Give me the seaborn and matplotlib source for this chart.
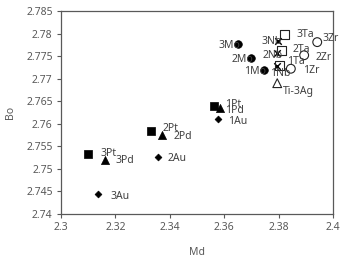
import matplotlib
matplotlib.use("Agg")
import matplotlib.pyplot as plt
import seaborn as sns
import pandas as pd
from matplotlib.ticker import FuncFormatter

# data
labels = ["3Pt", "2Pt", "1Pt",
          "3Pd", "2Pd", "1Pd",
          "3Au", "2Au", "1Au",
          "3Mo", "2Mo", "1Mo",
          "3Nb", "2Nb", "1Nb",
          "3Ta", "2Ta", "1Ta",
          "3Zr", "2Zr", "1Zr",
          "Ti-3Ag"]
md = [2.3100, 2.3331, 2.3562,
      2.3162, 2.3372, 2.3585,
      2.3137, 2.3356, 2.3576,
      2.3650, 2.3697, 2.3746,
      2.3797, 2.3793, 2.3795,
      2.3821, 2.3811, 2.3803,
      2.3942, 2.3894, 2.3845,
      2.3795]
bo = [2.7532, 2.7585, 2.7640,
      2.7520, 2.7575, 2.7634,
      2.7444, 2.7527, 2.7610,
      2.7776, 2.7745, 2.7719,
      2.7783, 2.7756, 2.7727,
      2.7798, 2.7762, 2.7730,
      2.7781, 2.7752, 2.7722,
      2.7690]
group = ["Pt"] * 3 + ["Pd"] * 3 + ["Au"] * 3 + ["Mo"] * 3 + \
        ["Nb"] * 3 + ["Ta"] * 3 + ["Zr"] * 3 + ["Ag"]

df = pd.DataFrame({"label": labels, "Md": md, "Bo": bo, "group": group})

# marker style per group: marker, size, filled
styles = {
    "Pt": ("s", 26, True),
    "Pd": ("^", 34, True),
    "Au": ("D", 12, True),
    "Mo": ("o", 30, True),
    "Nb": ("x", 22, False),
    "Ta": ("s", 40, False),
    "Zr": ("o", 40, False),
    "Ag": ("^", 40, False),
}

# label offsets in pixels (dx, dy, ha)
offs = {
    "3Pt": (12, 1, "left"), "2Pt": (12, 2, "left"), "1Pt": (11, 1, "left"),
    "3Pd": (10, -1, "left"), "2Pd": (11, -1, "left"), "1Pd": (5, -2, "left"),
    "3Au": (12, -2, "left"), "2Au": (10, -2, "left"), "1Au": (10, -2, "left"),
    "3Mo": (3, -1, "right"), "2Mo": (3, -1, "right"), "1Mo": (2, -1, "right"),
    "3Nb": (-6, 0, "center"), "2Nb": (-4, -2, "center"), "1Nb": (3, -7, "center"),
    "3Ta": (12, 0, "left"), "2Ta": (11, 1, "left"), "1Ta": (8, 4, "left"),
    "3Zr": (5, 4, "left"), "2Zr": (11, -2, "left"), "1Zr": (12, -2, "left"),
    "Ti-3Ag": (6, -8, "left"),
}

sns.set_theme(style="white")
plt.rcParams["font.family"] = ["Noto Sans", "DejaVu Sans"]

fig = plt.figure(figsize=(3.42, 2.56), dpi=100)
ax = fig.add_axes([61 / 342, 1 - 214 / 256, 272 / 342, 203 / 256])

for g, (mk, sz, filled) in styles.items():
    sub = df[df["group"] == g]
    if mk == "x":
        sns.scatterplot(data=sub, x="Md", y="Bo", marker=mk, s=sz, color="black",
                        linewidth=1.0, ax=ax, zorder=3)
    elif filled:
        sns.scatterplot(data=sub, x="Md", y="Bo", marker=mk, s=sz, color="black",
                        edgecolor="black", linewidth=0.5, ax=ax, zorder=3)
    else:
        sns.scatterplot(data=sub, x="Md", y="Bo", marker=mk, s=sz, facecolor="none",
                        edgecolor="#222222", linewidth=0.8, ax=ax, zorder=3)

for lab, x, y in zip(labels, md, bo):
    dx, dy, ha = offs[lab]
    ax.annotate(lab, (x, y), xytext=(dx, dy), textcoords="offset pixels",
                ha=ha, va="center", fontsize=7.5, color="#404040", zorder=4)

ax.set_xlim(2.3, 2.4)
ax.set_ylim(2.74, 2.785)
ax.set_xticks([2.3, 2.32, 2.34, 2.36, 2.38, 2.4])
ax.set_yticks([2.74, 2.745, 2.75, 2.755, 2.76, 2.765, 2.77, 2.775, 2.78, 2.785])
fmt = FuncFormatter(lambda v, p: "{:g}".format(round(v, 4)))
ax.xaxis.set_major_formatter(fmt)
ax.yaxis.set_major_formatter(fmt)
ax.tick_params(axis="both", direction="out", length=3, width=0.8, color="#595959",
               labelsize=7.5, labelcolor="#595959", pad=3, left=True, bottom=True)
for sp in ax.spines.values():
    sp.set_color("#595959")
    sp.set_linewidth(0.9)

ax.set_xlabel("Md", fontsize=7.5, color="#595959")
ax.set_ylabel("Bo", fontsize=7.5, color="#595959")
ax.xaxis.set_label_coords(0.5, -0.163)
ax.yaxis.set_label_coords(-0.165, 0.5)

fig.savefig("out.png", dpi=100)
